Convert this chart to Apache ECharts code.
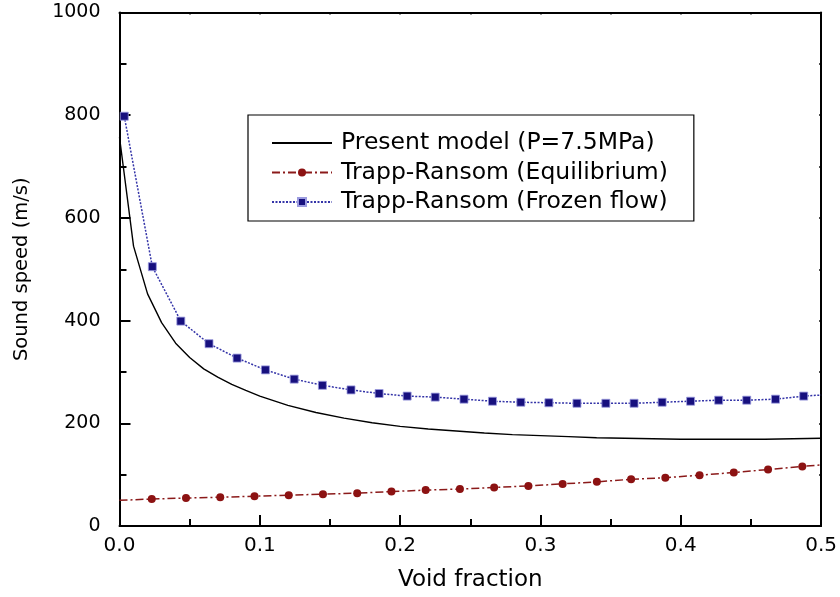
<!DOCTYPE html>
<html>
<head>
<meta charset="utf-8">
<script src="https://cdn.jsdelivr.net/npm/echarts@6/dist/echarts.min.js"></script>
<style>
  html, body { margin: 0; padding: 0; background: #fff; }
  #chart { width: 840px; height: 597px; }
</style>
</head>
<body>
<div id="chart"></div>
<script>
// present model curve (P=7.5MPa)
var modelX = [0, 0.01, 0.02, 0.03, 0.04, 0.05, 0.06, 0.07, 0.08, 0.09, 0.1, 0.12, 0.14, 0.16, 0.18, 0.2, 0.22, 0.24, 0.26, 0.28, 0.3, 0.32, 0.34, 0.36, 0.38, 0.4, 0.42, 0.44, 0.46, 0.48, 0.5];
var modelY = [757, 545, 452, 396, 356, 328, 306, 290, 276, 264, 253, 235, 221, 210, 201, 194, 189, 185, 181, 178, 176, 174, 172, 171, 170, 169, 169, 169, 169, 170, 171];

// Trapp-Ransom equilibrium (first and last point: line only)
var equilX = [0, 0.023, 0.0474, 0.0718, 0.0962, 0.1206, 0.145, 0.1694, 0.1938, 0.2182, 0.2426, 0.267, 0.2914, 0.3158, 0.3402, 0.3646, 0.389, 0.4134, 0.4378, 0.4622, 0.4866, 0.5];
var equilY = [50, 52.5, 54.5, 56, 58, 60, 62, 64, 67, 70, 72, 75, 78, 82, 86, 91, 94, 99, 104, 110, 116, 119];

// Trapp-Ransom frozen flow (last point: line only)
var frozenX = [0.0034, 0.0234, 0.0437, 0.0638, 0.0838, 0.104, 0.1245, 0.1446, 0.165, 0.185, 0.205, 0.225, 0.2455, 0.2658, 0.286, 0.306, 0.326, 0.3466, 0.3667, 0.3867, 0.407, 0.427, 0.447, 0.4675, 0.4876, 0.5];
var frozenY = [798, 505, 399, 355, 327, 304, 286, 274, 265, 258, 253, 251, 247, 243, 241, 240, 239, 239, 239, 241, 243, 245, 245, 247, 253, 255];

var seriesNames = ['Present model (P=7.5MPa)', 'Trapp-Ransom (Equilibrium)', 'Trapp-Ransom (Frozen flow)'];

var FONT = '"DejaVu Sans", sans-serif';

function pairs(xs, ys, bareIdx) {
  var out = [];
  for (var i = 0; i < xs.length; i++) {
    if (bareIdx.indexOf(i) >= 0) out.push({ value: [xs[i], ys[i]], symbol: 'none' });
    else out.push([xs[i], ys[i]]);
  }
  return out;
}

var chart = echarts.init(document.getElementById('chart'));

var option = {
  animation: false,
  backgroundColor: '#fff',
  textStyle: { fontFamily: FONT, color: '#000' },
  grid: { left: 119.5, right: 16, top: 12.5, bottom: 70 },
  legend: {
    orient: 'vertical',
    left: 248,
    top: 115,
    data: [
      { name: seriesNames[0], itemStyle: { color: 'rgba(0,0,0,0)', borderColor: 'rgba(0,0,0,0)', borderWidth: 0 } },
      seriesNames[1],
      seriesNames[2]
    ],
    itemWidth: 60,
    itemHeight: 10,
    itemGap: 5.5,
    padding: [16, 26, 7, 23],
    borderColor: '#000',
    borderWidth: 1.2,
    textStyle: { fontFamily: FONT, fontSize: 23.5, color: '#000', padding: [0, 0, 0, 4] },
    selectedMode: false
  },
  xAxis: [{
    type: 'value',
    min: 0,
    max: 0.5,
    interval: 0.1,
    name: 'Void fraction',
    nameLocation: 'middle',
    nameGap: 43,
    nameTextStyle: { fontFamily: FONT, fontSize: 23, color: '#000' },
    axisLine: { show: true, onZero: false, lineStyle: { color: '#000', width: 2 } },
    axisTick: { inside: true, length: 11, lineStyle: { color: '#000', width: 2 } },
    minorTick: { show: true, splitNumber: 2, length: 7, lineStyle: { color: '#000', width: 2 } },
    axisLabel: { margin: 10, fontFamily: FONT, fontSize: 20, color: '#000',
      formatter: function (v) { return v.toFixed(1); } },
    splitLine: { show: false }
  }, {
    type: 'value',
    position: 'top',
    min: 0,
    max: 0.5,
    interval: 0.05,
    axisLine: { show: true, onZero: false, lineStyle: { color: '#000', width: 2 } },
    axisTick: { inside: true, length: 2, lineStyle: { color: '#000', width: 1.5 } },
    axisLabel: { show: false },
    splitLine: { show: false }
  }],
  yAxis: [{
    type: 'value',
    min: 0,
    max: 1000,
    interval: 200,
    name: 'Sound speed (m/s)',
    nameLocation: 'middle',
    nameGap: 88,
    nameTextStyle: { fontFamily: FONT, fontSize: 19.5, color: '#000' },
    axisLine: { show: true, onZero: false, lineStyle: { color: '#000', width: 2 } },
    axisTick: { inside: true, length: 11, lineStyle: { color: '#000', width: 2 } },
    minorTick: { show: true, splitNumber: 2, length: 7, lineStyle: { color: '#000', width: 2 } },
    axisLabel: { margin: 19, fontFamily: FONT, fontSize: 19, color: '#000',
      formatter: function (v) { return String(v); } },
    splitLine: { show: false }
  }, {
    type: 'value',
    position: 'right',
    min: 0,
    max: 1000,
    interval: 100,
    axisLine: { show: true, onZero: false, lineStyle: { color: '#000', width: 2 } },
    axisTick: { inside: true, length: 2, lineStyle: { color: '#000', width: 1.5 } },
    axisLabel: { show: false },
    splitLine: { show: false }
  }],
  series: [{
    name: seriesNames[0],
    type: 'line',
    symbol: 'none',
    data: pairs(modelX, modelY, []),
    lineStyle: { color: '#000', width: 1.4, type: 'solid' },
    itemStyle: { color: '#000' },
    z: 3
  }, {
    name: seriesNames[1],
    type: 'line',
    symbol: 'circle',
    symbolSize: 8,
    data: pairs(equilX, equilY, [0, equilX.length - 1]),
    lineStyle: { color: '#8b1a1a', width: 1.5, type: [8, 3, 2, 3] },
    itemStyle: { color: '#8c1212', borderColor: '#8c1212', borderWidth: 0 },
    z: 4
  }, {
    name: seriesNames[2],
    type: 'line',
    symbol: 'rect',
    symbolSize: 8,
    data: pairs(frozenX, frozenY, [frozenX.length - 1]),
    lineStyle: { color: '#3434a8', width: 1.5, type: [2, 1.5] },
    itemStyle: { color: '#17107e', borderColor: '#9c9ce0', borderWidth: 0.8 },
    z: 5
  }]
};

chart.setOption(option);
</script>
</body>
</html>
